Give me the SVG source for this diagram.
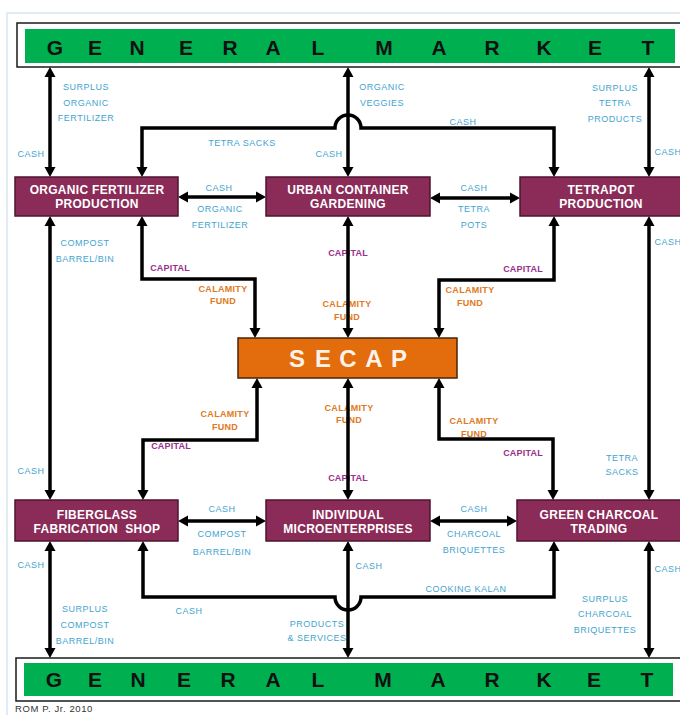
<svg xmlns="http://www.w3.org/2000/svg" width="680" height="715" viewBox="0 0 680 715">
  <style>
    .market-frame { fill: #ffffff; stroke: #1a1a1a; stroke-width: 1.5; }
    .market-band { fill: #00b050; }
    .market-text { font-family: "Liberation Sans", Arial, sans-serif; font-weight: bold; font-size: 21px; fill: #111111; text-anchor: middle; }
    .box { fill: #8b2b58; stroke: #4e1530; stroke-width: 1.5; }
    .box-text { font-family: "Liberation Sans", Arial, sans-serif; font-weight: bold; font-size: 12px; fill: #ffffff; text-anchor: middle; letter-spacing: 0.3px; }
    .hub { fill: #e36c0c; stroke: #4a2408; stroke-width: 1.5; }
    .hub-text { font-family: "Liberation Sans", Arial, sans-serif; font-weight: bold; font-size: 24px; fill: #fdf3ea; text-anchor: middle; }
    .flow { fill: none; stroke: #000000; stroke-width: 3.5; marker-start: url(#head); marker-end: url(#head); }
    .lbl { font-family: "Liberation Sans", Arial, sans-serif; font-size: 9px; fill: #3fa5cf; text-anchor: middle; letter-spacing: 0.5px; }
    .fund { font-family: "Liberation Sans", Arial, sans-serif; font-weight: bold; font-size: 9px; fill: #e07a22; text-anchor: middle; letter-spacing: 0.3px; }
    .cap { font-family: "Liberation Sans", Arial, sans-serif; font-weight: bold; font-size: 9px; fill: #9a2e8c; text-anchor: middle; letter-spacing: 0.2px; }
    .credit { font-family: "Liberation Sans", Arial, sans-serif; font-size: 9.5px; fill: #333333; letter-spacing: 0.6px; }
  </style>
  <defs>
    <marker id="head" markerUnits="userSpaceOnUse" viewBox="0 -6 10 12" refX="0" refY="0" markerWidth="10" markerHeight="12" orient="auto-start-reverse">
      <path d="M0,-5.5 L10,0 L0,5.5 z" fill="#000000"/>
    </marker>
  </defs>

  <!-- page -->
  <rect x="0" y="0" width="680" height="715" fill="#ffffff"/>
  <rect x="7" y="13" width="690" height="720" fill="none" stroke="#e2ebf3" stroke-width="2"/>

  <!-- flow labels -->
  <g id="labels">
    <text class="lbl" x="86" y="90">SURPLUS</text>
    <text class="lbl" x="86" y="106">ORGANIC</text>
    <text class="lbl" x="86" y="121">FERTILIZER</text>
    <text class="lbl" x="31" y="157">CASH</text>
    <text class="lbl" x="242" y="146">TETRA SACKS</text>
    <text class="lbl" x="329" y="157">CASH</text>
    <text class="lbl" x="382" y="90">ORGANIC</text>
    <text class="lbl" x="382" y="106">VEGGIES</text>
    <text class="lbl" x="463" y="125">CASH</text>
    <text class="lbl" x="615" y="91">SURPLUS</text>
    <text class="lbl" x="615" y="106">TETRA</text>
    <text class="lbl" x="615" y="122">PRODUCTS</text>
    <text class="lbl" x="668" y="155">CASH</text>
    <text class="lbl" x="219" y="191">CASH</text>
    <text class="lbl" x="220" y="212">ORGANIC</text>
    <text class="lbl" x="220" y="228">FERTILIZER</text>
    <text class="lbl" x="474" y="191">CASH</text>
    <text class="lbl" x="474" y="212">TETRA</text>
    <text class="lbl" x="474" y="228">POTS</text>
    <text class="lbl" x="85" y="246">COMPOST</text>
    <text class="lbl" x="85" y="262">BARREL/BIN</text>
    <text class="lbl" x="668" y="245">CASH</text>
    <text class="lbl" x="622" y="461">TETRA</text>
    <text class="lbl" x="622" y="475">SACKS</text>
    <text class="lbl" x="31" y="474">CASH</text>
    <text class="lbl" x="222" y="512">CASH</text>
    <text class="lbl" x="222" y="537">COMPOST</text>
    <text class="lbl" x="222" y="555">BARREL/BIN</text>
    <text class="lbl" x="474" y="512">CASH</text>
    <text class="lbl" x="474" y="537">CHARCOAL</text>
    <text class="lbl" x="474" y="553">BRIQUETTES</text>
    <text class="lbl" x="31" y="568">CASH</text>
    <text class="lbl" x="189" y="614">CASH</text>
    <text class="lbl" x="85" y="612">SURPLUS</text>
    <text class="lbl" x="85" y="628">COMPOST</text>
    <text class="lbl" x="85" y="644">BARREL/BIN</text>
    <text class="lbl" x="369" y="569">CASH</text>
    <text class="lbl" x="466" y="592">COOKING KALAN</text>
    <text class="lbl" x="317" y="627">PRODUCTS</text>
    <text class="lbl" x="317" y="641">&amp; SERVICES</text>
    <text class="lbl" x="668" y="572">CASH</text>
    <text class="lbl" x="605" y="602">SURPLUS</text>
    <text class="lbl" x="605" y="617">CHARCOAL</text>
    <text class="lbl" x="605" y="633">BRIQUETTES</text>

    <text class="cap" x="170" y="271">CAPITAL</text>
    <text class="cap" x="348" y="256">CAPITAL</text>
    <text class="cap" x="523" y="272">CAPITAL</text>
    <text class="cap" x="171" y="449">CAPITAL</text>
    <text class="cap" x="348" y="481">CAPITAL</text>
    <text class="cap" x="523" y="456">CAPITAL</text>

    <text class="fund" x="223" y="292">CALAMITY</text>
    <text class="fund" x="223" y="304">FUND</text>
    <text class="fund" x="347" y="307">CALAMITY</text>
    <text class="fund" x="347" y="320">FUND</text>
    <text class="fund" x="470" y="293">CALAMITY</text>
    <text class="fund" x="470" y="306">FUND</text>
    <text class="fund" x="225" y="417">CALAMITY</text>
    <text class="fund" x="225" y="430">FUND</text>
    <text class="fund" x="349" y="411">CALAMITY</text>
    <text class="fund" x="349" y="423">FUND</text>
    <text class="fund" x="474" y="424">CALAMITY</text>
    <text class="fund" x="474" y="437">FUND</text>
  </g>

  <!-- connectors -->
  <g id="connectors">
    <!-- market links -->
    <path class="flow" d="M50,77 V167"/>
    <path class="flow" d="M348,77 V167"/>
    <path class="flow" d="M649,77 V167"/>
    <path class="flow" d="M50,551 V648"/>
    <path class="flow" d="M348,551 V648"/>
    <path class="flow" d="M649,551 V648"/>
    <!-- outer columns -->
    <path class="flow" d="M50,226 V490"/>
    <path class="flow" d="M649,226 V490"/>
    <!-- horizontal exchanges -->
    <path class="flow" d="M188,197 H256"/>
    <path class="flow" d="M440,198 H510"/>
    <path class="flow" d="M188,521 H256"/>
    <path class="flow" d="M440,521 H507"/>
    <!-- loops with hops over the centre column -->
    <path class="flow" d="M142,167 V128 H335 A13,13 0 0 1 361,128 H554 V167"/>
    <path class="flow" d="M143,551 V597 H335 A13,13 0 0 0 361,597 H554 V551"/>
    <!-- SECAP links -->
    <path class="flow" d="M142,226 V279 H255 V328"/>
    <path class="flow" d="M554,226 V280 H439 V328"/>
    <path class="flow" d="M348,226 V328"/>
    <path class="flow" d="M257,388 V440 H143 V490"/>
    <path class="flow" d="M439,388 V439 H553 V490"/>
    <path class="flow" d="M348,388 V490"/>
  </g>

  <!-- nodes -->
  <g id="market-top">
    <rect class="market-frame" x="17" y="23" width="670" height="44"/>
    <rect class="market-band" x="25" y="29" width="650" height="34"/>
    <text class="market-text" x="55 95 137 186 230 273 318 384 439 492 544 595 648" y="55">GENERALMARKET</text>
  </g>

  <g id="organic-fertilizer">
    <rect class="box" x="15" y="177" width="163" height="39"/>
    <text class="box-text" x="97" y="194">ORGANIC FERTILIZER</text>
    <text class="box-text" x="97" y="208">PRODUCTION</text>
  </g>

  <g id="urban-container">
    <rect class="box" x="266" y="177" width="164" height="39"/>
    <text class="box-text" x="348" y="194">URBAN CONTAINER</text>
    <text class="box-text" x="348" y="208">GARDENING</text>
  </g>

  <g id="tetrapot">
    <rect class="box" x="520" y="177" width="170" height="39"/>
    <text class="box-text" x="601" y="194">TETRAPOT</text>
    <text class="box-text" x="601" y="208">PRODUCTION</text>
  </g>

  <g id="secap">
    <rect class="hub" x="238" y="338" width="219" height="40"/>
    <text class="hub-text" x="297 323 348 374 399" y="367">SECAP</text>
  </g>

  <g id="fiberglass">
    <rect class="box" x="15" y="500" width="163" height="41"/>
    <text class="box-text" x="97" y="519">FIBERGLASS</text>
    <text class="box-text" x="97" y="533" xml:space="preserve">FABRICATION  SHOP</text>
  </g>

  <g id="microenterprises">
    <rect class="box" x="266" y="500" width="164" height="41"/>
    <text class="box-text" x="348" y="519">INDIVIDUAL</text>
    <text class="box-text" x="348" y="533">MICROENTERPRISES</text>
  </g>

  <g id="green-charcoal">
    <rect class="box" x="517" y="500" width="173" height="41"/>
    <text class="box-text" x="599" y="519">GREEN CHARCOAL</text>
    <text class="box-text" x="599" y="533">TRADING</text>
  </g>

  <g id="market-bottom">
    <rect class="market-frame" x="16" y="658" width="670" height="43"/>
    <rect class="market-band" x="24" y="663" width="649" height="33"/>
    <text class="market-text" x="54 95 138 184 228 273 318 383 438 492 544 594 647" y="687">GENERALMARKET</text>
  </g>

  <text class="credit" x="15" y="712">ROM P. Jr. 2010</text>
</svg>
